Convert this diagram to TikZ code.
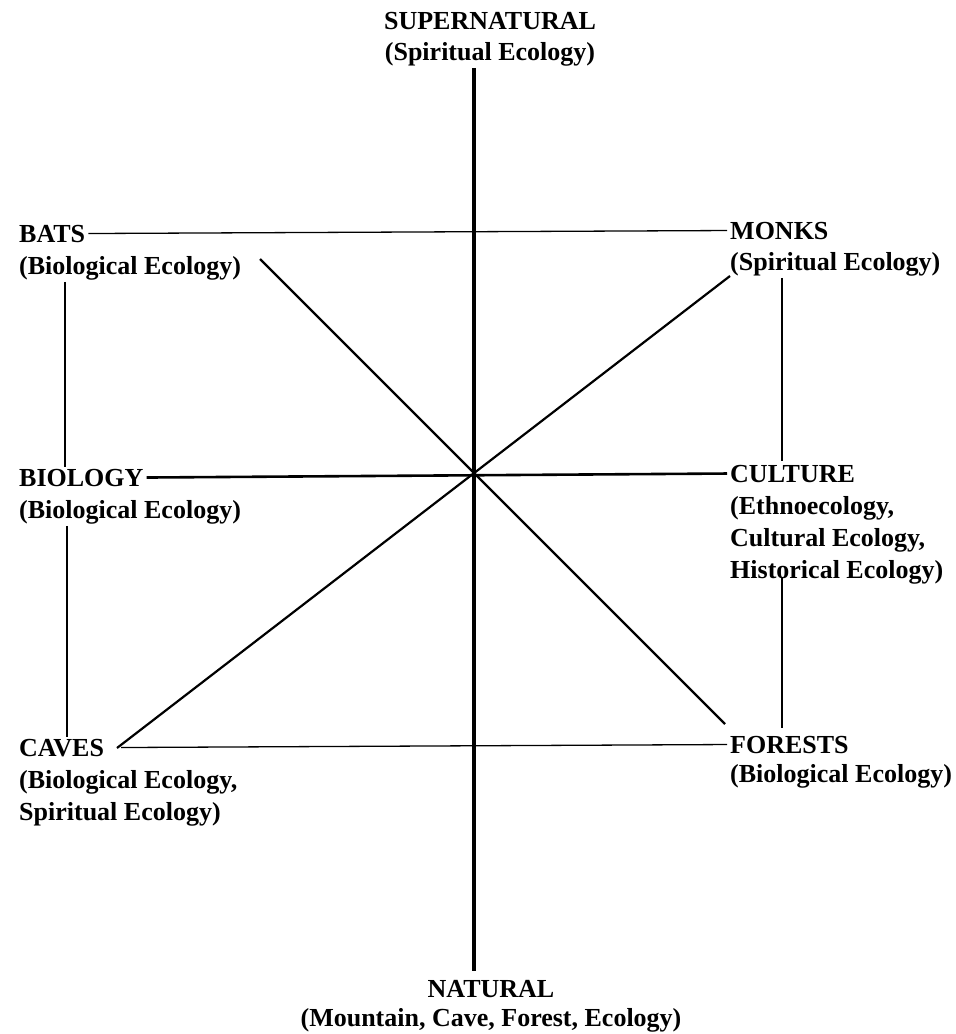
\documentclass[tikz,border=0pt]{standalone}
\usepackage{fontspec}
\setmainfont{Liberation Serif}
\usetikzlibrary{positioning,calc}

\tikzset{
  lbl/.style={font=\fontsize{26}{32}\selectfont\bfseries, inner xsep=3pt, inner ysep=2pt, anchor=base west},
  axis/.style={line width=3pt},
  diag/.style={line width=2.2pt},
  side/.style={line width=1.3pt},
}

\begin{document}
\begin{tikzpicture}[x=1pt,y=-1pt]
    \useasboundingbox (0,0) rectangle (956,1034);
    \coordinate (c) at (474,473);

    % top and bottom
    \node[lbl,anchor=base] (super) at (490,29) {SUPERNATURAL};
    \node[lbl,below=31pt of super.base,anchor=base] (superSub) {(Spiritual Ecology)};
    \node[lbl,anchor=base] (natural) at (491,997) {NATURAL};
    \node[lbl,below=29pt of natural.base,anchor=base] (naturalSub) {(Mountain, Cave, Forest, Ecology)};

    % left side
    \node[lbl] (bats) at (16,242) {BATS};
    \node[lbl,below=32pt of bats.base west,anchor=base west] (batsSub) {(Biological Ecology)};
    \node[lbl] (biology) at (16,486) {BIOLOGY};
    \node[lbl,below=32pt of biology.base west,anchor=base west] (biologySub) {(Biological Ecology)};
    \node[lbl] (caves) at (16,756) {CAVES};
    \node[lbl,below=32pt of caves.base west,anchor=base west] (cavesSub1) {(Biological Ecology,};
    \node[lbl,below=32pt of cavesSub1.base west,anchor=base west] (cavesSub2) {Spiritual Ecology)};

    % right side
    \node[lbl] (monks) at (727,239) {MONKS};
    \node[lbl,below=31pt of monks.base west,anchor=base west] (monksSub) {(Spiritual Ecology)};
    \node[lbl] (culture) at (727,482) {CULTURE};
    \node[lbl,below=32pt of culture.base west,anchor=base west] (cultureSub1) {(Ethnoecology,};
    \node[lbl,below=32pt of cultureSub1.base west,anchor=base west] (cultureSub2) {Cultural Ecology,};
    \node[lbl,below=32pt of cultureSub2.base west,anchor=base west] (cultureSub3) {Historical Ecology)};
    \node[lbl] (forests) at (727,753) {FORESTS};
    \node[lbl,below=29pt of forests.base west,anchor=base west] (forestsSub) {(Biological Ecology)};

    % the cross
    \draw[axis,line width=3.2pt,shorten >=7pt] (superSub.south -| c) -- (natural.north -| c);
    \draw[axis,line width=2.6pt] (biology.east) -- (culture.west);
    \coordinate (nwEnd) at (260,259);
    \coordinate (seEnd) at (725,724);
    \coordinate (neEnd) at (730,276);
    \coordinate (swEnd) at (117,748);
    \draw[diag] (nwEnd) -- (seEnd);
    \draw[diag] (neEnd) -- (swEnd);

    % outer frame
    \draw[side] (bats.east) -- (monks.west);
    \draw[side,shorten <=14pt] (caves.east) -- (forests.west);
    \draw[side] ([xshift=49pt]batsSub.south west) -- ([xshift=49pt]biology.north west);
    \draw[side] ([xshift=51pt]biologySub.south west) -- ([xshift=51pt]caves.north west);
    \draw[side,shorten >=2pt] ([xshift=55pt]monksSub.south west) -- ([xshift=55pt]culture.north west);
    \draw[side,shorten <=-8pt,shorten >=6pt] ([xshift=55pt]cultureSub3.south west) -- ([xshift=55pt]forests.north west);
\end{tikzpicture}
\end{document}
